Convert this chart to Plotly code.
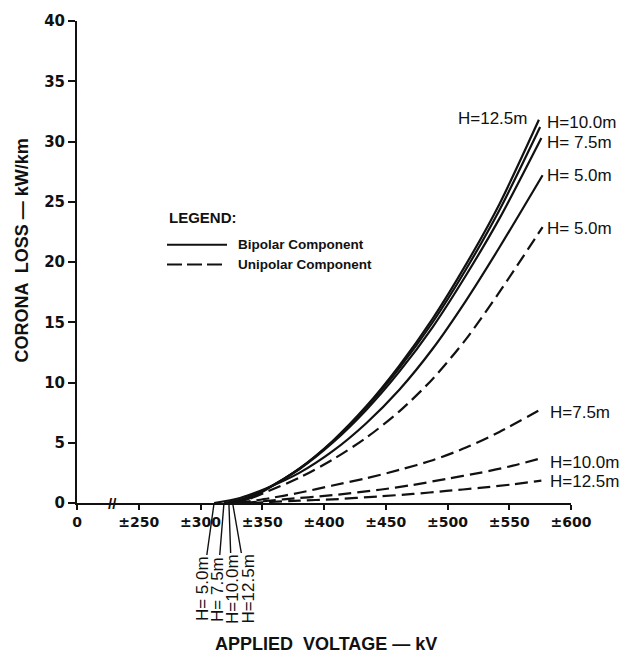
import plotly.graph_objects as go

# Corona loss vs applied voltage, bipolar (solid) and unipolar (dashed) components
heights = ["12.5", "10.0", "7.5", "5.0"]

bip_volts = {
    "12.5": [326, 339, 353, 380, 407, 434, 461, 488, 515, 542, 574],
    "10.0": [323, 338, 353, 380, 407, 434, 461, 488, 515, 542, 575],
    "7.5":  [319, 336, 353, 380, 407, 434, 461, 488, 515, 542, 576],
    "5.0":  [311, 332, 353, 380, 407, 434, 461, 488, 515, 542, 577],
}
bip_loss = {
    "12.5": [0, 0.35, 1.1, 2.85, 5.15, 8.0, 11.4, 15.3, 19.8, 24.8, 31.8],
    "10.0": [0, 0.4, 1.15, 2.85, 5.1, 7.9, 11.2, 15.0, 19.4, 24.3, 31.2],
    "7.5":  [0, 0.4, 1.15, 2.8, 5.0, 7.7, 10.9, 14.6, 18.9, 23.6, 30.3],
    "5.0":  [0, 0.42, 1.2, 2.5, 4.3, 6.6, 9.4, 12.8, 16.8, 21.2, 27.2],
}

uni_volts = {
    "5.0":  [326, 339, 353, 380, 407, 434, 461, 488, 515, 542, 577],
    "7.5":  [330, 356, 380, 407, 434, 461, 488, 515, 542, 576],
    "10.0": [335, 367, 407, 445, 472, 499, 526, 553, 577],
    "12.5": [340, 380, 407, 445, 472, 499, 526, 553, 576],
}
uni_loss = {
    "5.0":  [0, 0.32, 0.9, 2.1, 3.6, 5.4, 7.6, 10.3, 13.6, 17.5, 22.9],
    "7.5":  [0, 0.4, 0.85, 1.45, 2.05, 2.75, 3.55, 4.6, 5.9, 7.8],
    "10.0": [0, 0.3, 0.65, 1.1, 1.5, 2.0, 2.5, 3.1, 3.75],
    "12.5": [0, 0.2, 0.3, 0.55, 0.75, 1.0, 1.25, 1.55, 1.85],
}

# corona onset voltage of each height (kV)
onset = {"5.0": 311, "7.5": 319, "10.0": 323, "12.5": 326}

x_tickvals = [200, 250, 300, 350, 400, 450, 500, 550, 600]
x_ticktext = ["0", "±250", "±300", "±350", "±400", "±450", "±500", "±550", "±600"]
y_tickvals = [0, 5, 10, 15, 20, 25, 30, 35, 40]

# end-of-curve labels: text, x (kV), y (kW/km), anchor
end_labels = [
    ("H=12.5m", 565, 31.9, "right"),
    ("H=10.0m", 579.5, 31.55, "left"),
    ("H= 7.5m", 579.5, 29.95, "left"),
    ("H= 5.0m", 579.5, 27.2, "left"),
    ("H= 5.0m", 579.5, 22.75, "left"),
    ("H=7.5m", 582, 7.55, "left"),
    ("H=10.0m", 582, 3.37, "left"),
    ("H=12.5m", 582, 1.75, "left"),
]

INK = "#111111"
FONT = "Liberation Sans"

W, H = 624, 656
ML, MR, MT, MB = 77, 53, 16, 153
PW, PH = W - ML - MR, H - MT - MB


def px(x):
    return (x - ML) / PW


def py(y):
    return (H - MB - y) / PH


fig = go.Figure()

for h in heights:
    fig.add_trace(go.Scatter(
        x=bip_volts[h], y=bip_loss[h], mode="lines",
        line=dict(color=INK, width=2.2, shape="spline", smoothing=0.8),
        showlegend=False, hoverinfo="skip"))

for h in ["5.0", "7.5", "10.0", "12.5"]:
    fig.add_trace(go.Scatter(
        x=uni_volts[h], y=uni_loss[h], mode="lines",
        line=dict(color=INK, width=2.2, dash="13px,6px", shape="spline", smoothing=0.8),
        showlegend=False, hoverinfo="skip"))

annotations = []
for text, x, y, anchor in end_labels:
    annotations.append(dict(
        x=x, y=y, xref="x", yref="y", text=text, showarrow=False,
        xanchor=anchor, yanchor="middle", borderpad=0,
        font=dict(family=FONT, size=17, color=INK)))

# rotated onset labels with leader lines down from the axis
label_offsets = {"5.0": -12, "7.5": -7, "10.0": 3, "12.5": 15}
for h in ["5.0", "7.5", "10.0", "12.5"]:
    txt = ("H=" + h + "m") if len(h) == 4 else ("H= " + h + "m")
    annotations.append(dict(
        x=onset[h], y=0, xref="x", yref="y", text=txt, textangle=-90,
        showarrow=True, arrowhead=0, arrowwidth=1.4, arrowcolor=INK,
        ax=label_offsets[h], ay=86, standoff=0,
        font=dict(family=FONT, size=17, color=INK)))

# axis break mark
annotations.append(dict(
    x=229, y=0, xref="x", yref="y", text="<b>//</b>", showarrow=False,
    xanchor="center", yanchor="middle",
    font=dict(family=FONT, size=15, color=INK)))

# axis titles
annotations.append(dict(
    x=px(22), y=py(248), xref="paper", yref="paper",
    text="<b>CORONA  LOSS — kW/km</b>", textangle=-90, showarrow=False,
    xanchor="center", yanchor="middle",
    font=dict(family=FONT, size=18, color=INK)))
annotations.append(dict(
    x=px(326), y=py(645), xref="paper", yref="paper",
    text="<b>APPLIED  VOLTAGE — kV</b>", showarrow=False,
    xanchor="center", yanchor="middle",
    font=dict(family=FONT, size=18, color=INK)))

# legend block
annotations.append(dict(
    x=px(167), y=py(215), xref="paper", yref="paper",
    text="<b>LEGEND:</b>", showarrow=False, xanchor="left", yanchor="middle",
    font=dict(family=FONT, size=15, color=INK)))
annotations.append(dict(
    x=px(236), y=py(242), xref="paper", yref="paper",
    text="<b>Bipolar Component</b>", showarrow=False, xanchor="left", yanchor="middle",
    font=dict(family=FONT, size=13.5, color=INK)))
annotations.append(dict(
    x=px(236), y=py(262), xref="paper", yref="paper",
    text="<b>Unipolar Component</b>", showarrow=False, xanchor="left", yanchor="middle",
    font=dict(family=FONT, size=13.5, color=INK)))

shapes = [
    dict(type="line", xref="paper", yref="paper",
         x0=px(167), x1=px(227), y0=py(242), y1=py(242),
         line=dict(color=INK, width=2)),
    dict(type="line", xref="paper", yref="paper",
         x0=px(167), x1=px(227), y0=py(262), y1=py(262),
         line=dict(color=INK, width=2, dash="15px,5px")),
]

fig.update_layout(
    width=W, height=H,
    margin=dict(l=ML, r=MR, t=MT, b=MB, pad=0),
    paper_bgcolor="white", plot_bgcolor="white",
    showlegend=False,
    annotations=annotations,
    shapes=shapes,
    xaxis=dict(
        range=[200, 600], tickmode="array", tickvals=x_tickvals, ticktext=x_ticktext,
        showgrid=False, zeroline=False, showline=True, linecolor=INK, linewidth=2,
        ticks="outside", ticklen=5, tickwidth=1.5, tickcolor=INK,
        tickfont=dict(family="DejaVu Sans", size=14, color=INK, weight="bold"),
    ),
    yaxis=dict(
        range=[0, 40], tickmode="array", tickvals=y_tickvals,
        showgrid=False, zeroline=False, showline=True, linecolor=INK, linewidth=2,
        ticks="outside", ticklen=7, tickwidth=1.5, tickcolor=INK,
        tickfont=dict(family="DejaVu Sans", size=15, color=INK, weight="bold"),
    ),
)

fig.write_html("out.html")
